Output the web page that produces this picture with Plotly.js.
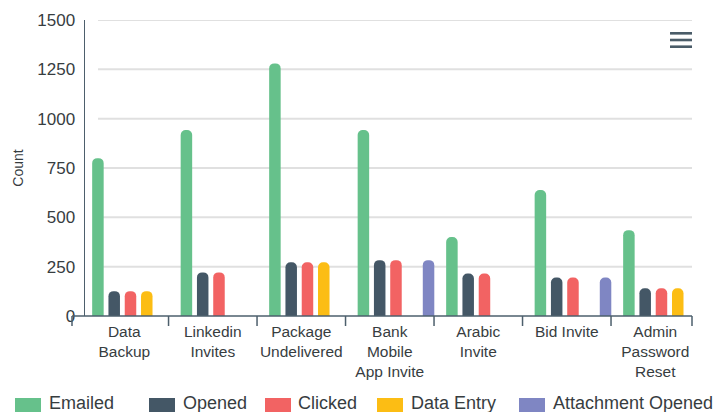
<!DOCTYPE html>
<html>
<head>
<meta charset="utf-8">
<script src="https://cdn.plot.ly/plotly-3.0.1.min.js"></script>
<style>html,body{margin:0;padding:0;background:#fff;}#chart{width:721px;height:412px;}</style>
</head>
<body>
<div id="chart"></div>
<script>
// ---- data ----
var categories = ["Data<br>Backup", "Linkedin<br>Invites", "Package<br>Undelivered", "Bank<br>Mobile<br>App Invite", "Arabic<br>Invite", "Bid Invite", "Admin<br>Password<br>Reset"];
var seriesNames = ["Emailed", "Opened", "Clicked", "Data Entry", "Attachment Opened"];
var emailed = [800, 942, 1280, 942, 400, 638, 435];
var opened = [126, 221, 272, 283, 215, 195, 140];
var clicked = [126, 221, 272, 283, 215, 195, 140];
var dataEntry = [126, null, 272, null, null, null, 140];
var attachmentOpened = [null, null, null, 283, null, 195, null];
var yTicks = [0, 250, 500, 750, 1000, 1250, 1500];

// ---- style ----
var colors = ["#66c18b", "#445766", "#f26363", "#fcbd14", "#7f86c3"];
var axisColor = "#4d5f6c";
var textColor = "#373d3f";
var font = "Liberation Sans, Arial, Helvetica, sans-serif";
var xRange = [-0.444, 6.415];
var slot = 0.184, barW = 0.13, firstCenter = -0.298;

var series = [emailed, opened, clicked, dataEntry, attachmentOpened];
var traces = series.map(function (vals, k) {
  return {
    type: "bar",
    name: seriesNames[k],
    x: categories,
    y: vals,
    width: barW,
    offset: firstCenter + slot * k - barW / 2,
    marker: { color: colors[k], cornerradius: 6, line: { width: 0 } },
    hoverinfo: "x+y+name",
    showlegend: false
  };
});

var shapes = [];
// horizontal grid lines
yTicks.slice(1).forEach(function (v) {
  shapes.push({ type: "line", xref: "paper", yref: "y", x0: 13 / 607, x1: 1, y0: v, y1: v,
    line: { color: "#e0e0e0", width: 2 }, layer: "below" });
});
// x axis line
shapes.push({ type: "line", xref: "paper", yref: "paper", x0: -13 / 607, x1: 1, y0: 0, y1: 0,
  line: { color: axisColor, width: 1.5 } });
// x axis ticks at category boundaries plus ends
var tickPx = [-13 / 607, 1];
for (var i = 0; i < categories.length - 1; i++) {
  tickPx.push((i + 0.5 - xRange[0]) / (xRange[1] - xRange[0]));
}
tickPx.forEach(function (p) {
  shapes.push({ type: "line", xref: "paper", yref: "paper", x0: p, x1: p, y0: 0, y1: -10 / 296,
    line: { color: axisColor, width: 1.5 } });
});
// menu icon
[0.955, 0.9324, 0.9098].forEach(function (yy) {
  shapes.push({ type: "line", xref: "paper", yref: "paper", x0: 0.9638, x1: 1, y0: yy, y1: yy,
    line: { color: "#4a5c68", width: 2.6 } });
});
// custom legend
var legSquareX = [15, 149, 265, 377, 519];
var legTextX = [47, 181, 296, 409, 551];
var annotations = [];
seriesNames.forEach(function (n, k) {
  shapes.push({ type: "rect", xref: "paper", yref: "paper",
    x0: (legSquareX[k] - 85) / 607, x1: (legSquareX[k] + 26 - 85) / 607,
    y0: (316 - 398) / 296, y1: (316 - 414) / 296,
    fillcolor: colors[k], line: { width: 0 } });
  annotations.push({ xref: "paper", yref: "paper", x: (legTextX[k] - 85) / 607, y: (316 - 403) / 296,
    xanchor: "left", yanchor: "middle", showarrow: false, text: n,
    font: { family: font, size: 18, color: textColor } });
});

var layout = {
  width: 721, height: 412,
  margin: { l: 85, r: 29, t: 20, b: 96 },
  paper_bgcolor: "#fff", plot_bgcolor: "#fff",
  barmode: "overlay",
  showlegend: false,
  font: { family: font, color: textColor },
  xaxis: {
    type: "category", range: xRange, showgrid: false, zeroline: false, showline: false,
    ticks: "", ticklabelstandoff: 4, tickfont: { family: font, size: 15.5, color: textColor }, fixedrange: true
  },
  yaxis: {
    range: [0, 1500], tickvals: yTicks, ticktext: yTicks.map(String),
    showgrid: false, zeroline: false, showline: true, linecolor: axisColor, linewidth: 1.5,
    ticks: "", ticklabelstandoff: 5,
    tickfont: { family: font, size: 17, color: textColor },
    title: { text: "Count", font: { family: font, size: 14, color: textColor }, standoff: 10 },
    fixedrange: true
  },
  shapes: shapes,
  annotations: annotations
};

Plotly.newPlot("chart", traces, layout, { displayModeBar: false, staticPlot: true });
</script>
</body>
</html>
